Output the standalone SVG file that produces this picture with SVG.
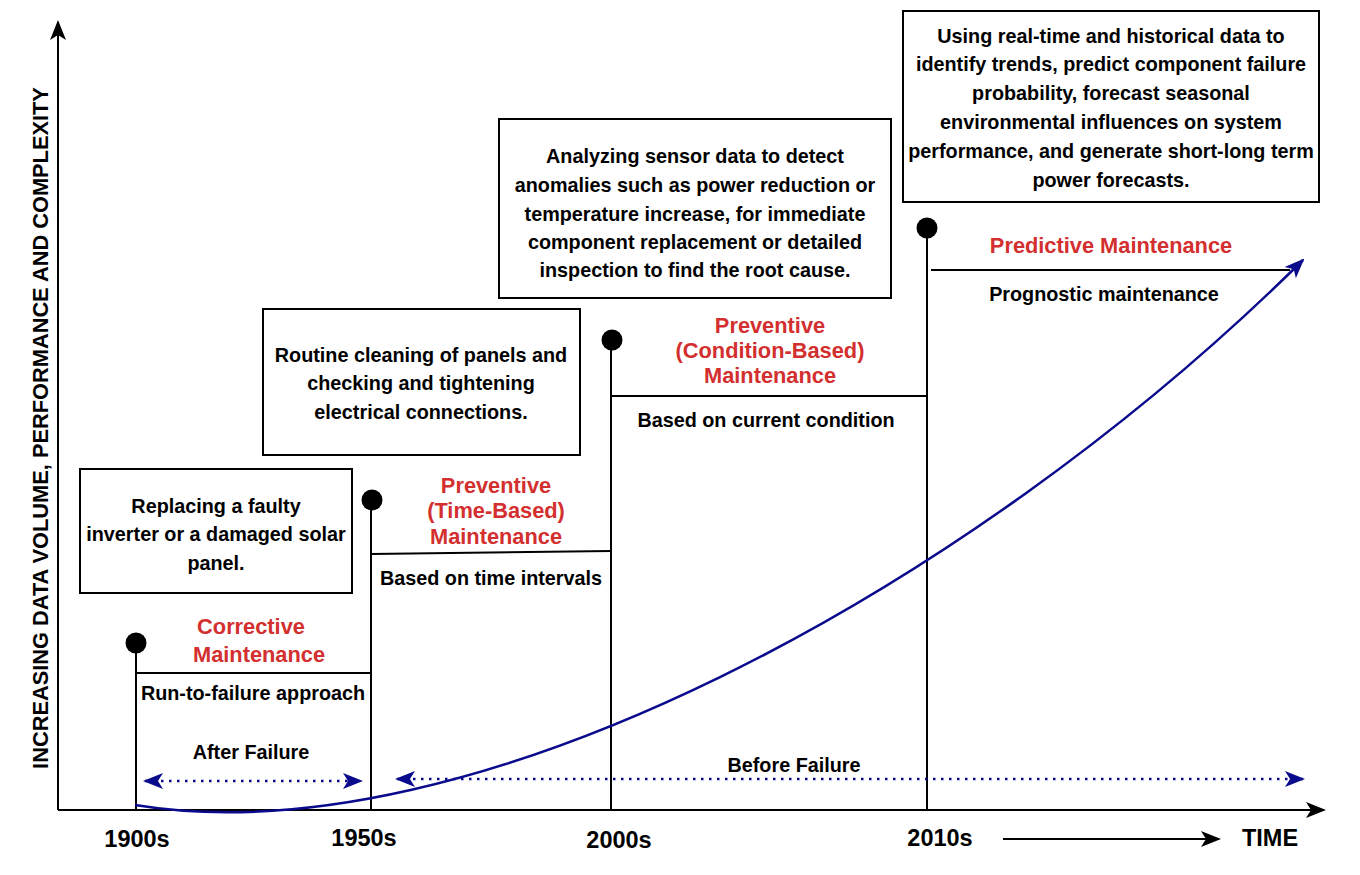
<svg xmlns="http://www.w3.org/2000/svg" width="1360" height="875" viewBox="0 0 1360 875">
<defs>
<marker id="ahBlack" viewBox="0 0 20 20" refX="18" refY="10" markerWidth="20" markerHeight="20" markerUnits="userSpaceOnUse" orient="auto-start-reverse">
<path d="M0,2 L20,10 L0,18 L5,10 Z" fill="#000"/>
</marker>
<marker id="ahBlue" viewBox="0 0 20 20" refX="18" refY="10" markerWidth="20" markerHeight="20" markerUnits="userSpaceOnUse" orient="auto-start-reverse">
<path d="M0,2 L20,10 L0,18 L5,10 Z" fill="#0a0a8c"/>
</marker>
<style>
text{font-family:"Liberation Sans",Arial,sans-serif;font-weight:bold;}
.box{fill:#fff;stroke:#000;stroke-width:2;}
.bt{font-size:19.8px;fill:#000;text-anchor:middle;}
.red{font-size:21.8px;fill:#d32f2f;text-anchor:middle;}
.sub{font-size:19.8px;fill:#000;text-anchor:middle;}
.yr{font-size:23.5px;fill:#000;text-anchor:middle;}
.ln{stroke:#000;stroke-width:2;fill:none;}
.dot{fill:#000;}
.dash{stroke:#0a0a8c;stroke-width:2.5;stroke-dasharray:2.5 5.5;fill:none;}
</style>
</defs>

<g id="connectors">
<line class="ln" x1="58" y1="810" x2="58" y2="22" marker-end="url(#ahBlack)"/>
<line class="ln" x1="58" y1="810" x2="1324" y2="810" marker-end="url(#ahBlack)"/>
<line class="ln" x1="1003" y1="839" x2="1219" y2="839" marker-end="url(#ahBlack)"/>
<line class="ln" x1="136" y1="643" x2="136" y2="810"/>
<line class="ln" x1="371" y1="500" x2="371" y2="810"/>
<line class="ln" x1="611" y1="340" x2="611" y2="810"/>
<line class="ln" x1="927" y1="228" x2="927" y2="810"/>
<line class="ln" x1="136" y1="673" x2="371" y2="673"/>
<line class="ln" x1="371" y1="554" x2="611" y2="551"/>
<line class="ln" x1="611" y1="396" x2="927" y2="396"/>
<line class="ln" x1="931" y1="270" x2="1290" y2="270"/>
<path d="M135,805 C470,860 968,592 1303,260" stroke="#0a0a8c" stroke-width="2.5" fill="none" marker-end="url(#ahBlue)"/>
<line class="dash" x1="145" y1="781" x2="361" y2="781" marker-start="url(#ahBlue)" marker-end="url(#ahBlue)"/>
<line class="dash" x1="397" y1="779" x2="1303" y2="779" marker-start="url(#ahBlue)" marker-end="url(#ahBlue)"/>
</g>

<g id="dots">
<circle class="dot" cx="136" cy="643" r="10.5"/>
<circle class="dot" cx="372" cy="500" r="10.5"/>
<circle class="dot" cx="612" cy="340" r="10.5"/>
<circle class="dot" cx="927" cy="228" r="10.5"/>
</g>

<g id="y-label">
<text transform="translate(48,428) rotate(-90)" style="font-size:21.8px;text-anchor:middle;">INCREASING DATA VOLUME, PERFORMANCE AND COMPLEXITY</text>
</g>

<g id="x-labels">
<text class="yr" x="137" y="847">1900s</text>
<text class="yr" x="364" y="846">1950s</text>
<text class="yr" x="619" y="848">2000s</text>
<text class="yr" x="940" y="846">2010s</text>
<text class="yr" x="1270" y="846">TIME</text>
</g>

<g id="box-corrective">
<rect class="box" x="80" y="469" width="272" height="124"/>
<text class="bt" x="216" y="513">Replacing a faulty</text>
<text class="bt" x="216" y="541">inverter or a damaged solar</text>
<text class="bt" x="216" y="570">panel.</text>
</g>

<g id="box-time">
<rect class="box" x="263" y="309" width="317" height="146"/>
<text class="bt" x="421" y="362">Routine cleaning of panels and</text>
<text class="bt" x="421" y="390">checking and tightening</text>
<text class="bt" x="421" y="419">electrical connections.</text>
</g>

<g id="box-condition">
<rect class="box" x="499" y="119" width="392" height="179"/>
<text class="bt" x="695" y="163">Analyzing sensor data to detect</text>
<text class="bt" x="695" y="192">anomalies such as power reduction or</text>
<text class="bt" x="695" y="221">temperature increase, for immediate</text>
<text class="bt" x="695" y="249">component replacement or detailed</text>
<text class="bt" x="695" y="277">inspection to find the root cause.</text>
</g>

<g id="box-predictive">
<rect class="box" x="903" y="11" width="416" height="191"/>
<text class="bt" x="1111" y="43">Using real-time and historical data to</text>
<text class="bt" x="1111" y="71">identify trends, predict component failure</text>
<text class="bt" x="1111" y="100">probability, forecast seasonal</text>
<text class="bt" x="1111" y="129">environmental influences on system</text>
<text class="bt" x="1111" y="158">performance, and generate short-long term</text>
<text class="bt" x="1111" y="187">power forecasts.</text>
</g>

<g id="node-corrective">
<text class="red" x="251" y="634">Corrective</text>
<text class="red" x="259" y="662">Maintenance</text>
<text class="sub" x="253" y="700">Run-to-failure approach</text>
<text class="sub" x="251" y="759">After Failure</text>
</g>

<g id="node-time">
<text class="red" x="496" y="493">Preventive</text>
<text class="red" x="496" y="518">(Time-Based)</text>
<text class="red" x="496" y="544">Maintenance</text>
<text class="sub" x="491" y="585">Based on time intervals</text>
</g>

<g id="node-condition">
<text class="red" x="770" y="333">Preventive</text>
<text class="red" x="770" y="358">(Condition-Based)</text>
<text class="red" x="770" y="383">Maintenance</text>
<text class="sub" x="766" y="427">Based on current condition</text>
</g>

<g id="node-predictive">
<text class="red" x="1111" y="253">Predictive Maintenance</text>
<text class="sub" x="1104" y="301">Prognostic maintenance</text>
<text class="sub" x="794" y="772">Before Failure</text>
</g>
</svg>
